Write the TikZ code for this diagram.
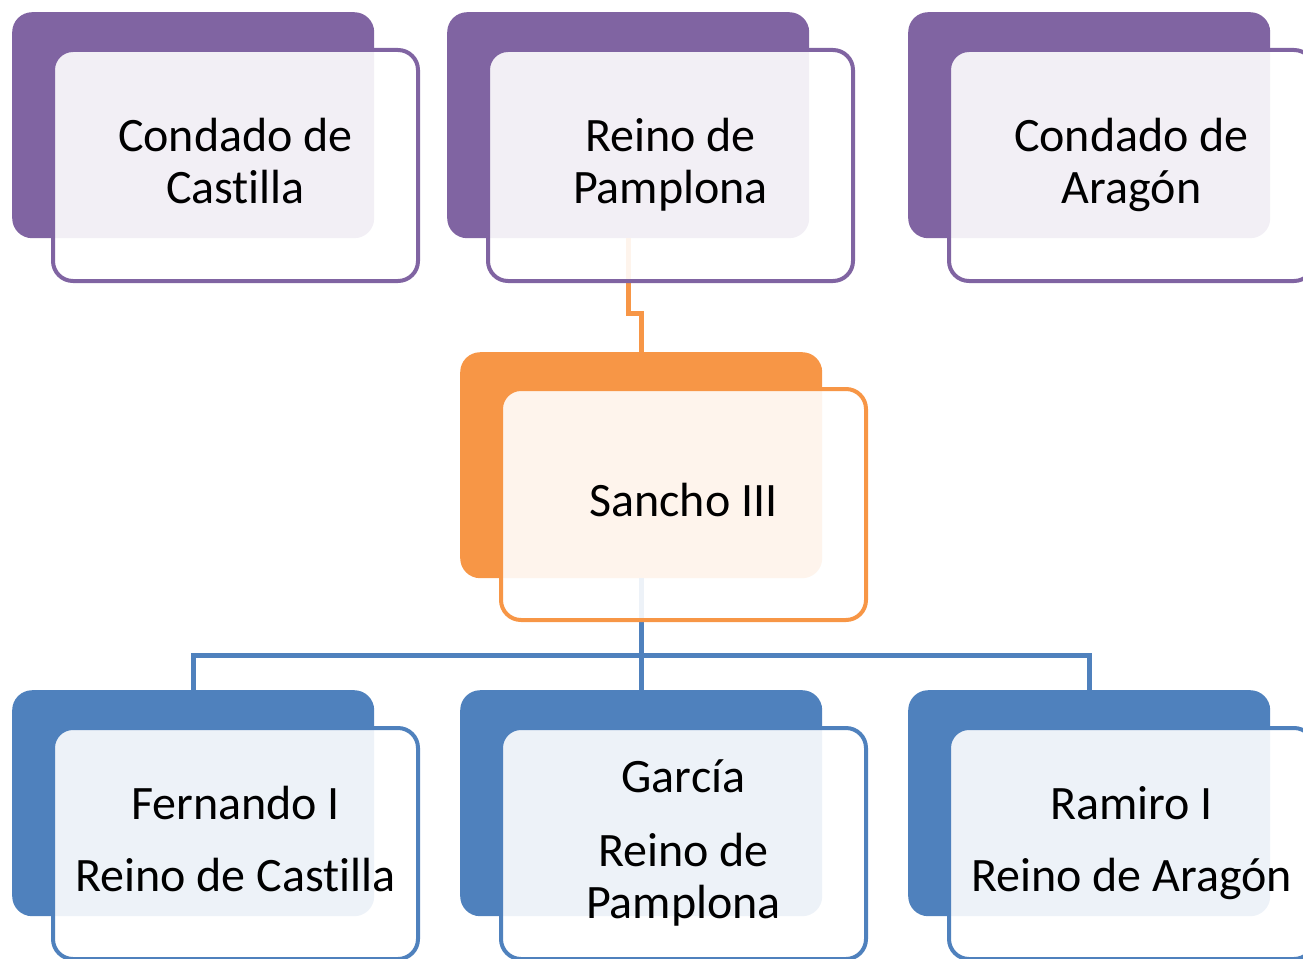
\documentclass[tikz,border=0pt]{standalone}
\usepackage{fontspec}
\setmainfont[Ligatures=NoCommon]{Carlito}
\definecolor{purp}{HTML}{8064A2}
\definecolor{oran}{HTML}{F79646}
\definecolor{blu}{HTML}{4F81BD}
\newcommand{\dpt}{\rule[-9.6pt]{0pt}{1pt}}
\begin{document}
\begin{tikzpicture}[x=1pt,y=-1pt,
  back/.style={fill=#1, draw=none, rounded corners=20pt, minimum width=362pt, minimum height=226pt, anchor=north west, inner sep=0pt},
  front/.style={draw=#1, line width=4pt, fill=white, fill opacity=0.9, text opacity=1, rounded corners=20pt, minimum width=365pt, minimum height=231pt, anchor=north west, inner sep=0pt, align=center, font=\fontsize{48}{52}\selectfont},
  conn/.style={draw=#1, line width=5pt}]
\useasboundingbox (0,0) rectangle (1303,958);
\begin{scope}
\clip (0,0) rectangle (1303,958);
% back boxes
\node[back=purp] (tb1) at (12,12) {};
\node[back=purp] (tb2) at (447,12) {};
\node[back=purp] (tb3) at (908,12) {};
\node[back=oran] (sb) at (460,352) {};
\node[back=blu] (bb1) at (12,690) {};
\node[back=blu] (bb2) at (460,690) {};
\node[back=blu] (bb3) at (908,690) {};
% connectors
\draw[conn=oran] (tb2.south) -- ++(0,75) -| (sb.north);
\draw[conn=blu] (sb.south) -- (bb2.north);
\draw[conn=blu] (bb1.north) -- ++(0,-35) -| (bb3.north);
% front boxes
\node[front=purp] (tf1) at (51,48) {Condado de\\Castilla\dpt};
\node[front=purp] (tf2) at (486,48) {Reino de\\Pamplona\dpt};
\node[front=purp] (tf3) at (947,48) {Condado de\\Aragón\dpt};
\node[front=oran] (sf) at (499,387) {Sancho III\dpt};
\node[front=blu] (bf1) at (51,726) {Fernando I\\[20pt]Reino de Castilla\dpt};
\node[front=blu] (bf2) at (499,726) {García\\[22pt]Reino de\\Pamplona\dpt};
\node[front=blu] (bf3) at (947,726) {Ramiro I\\[20pt]Reino de Aragón\dpt};
\end{scope}
\end{tikzpicture}
\end{document}
